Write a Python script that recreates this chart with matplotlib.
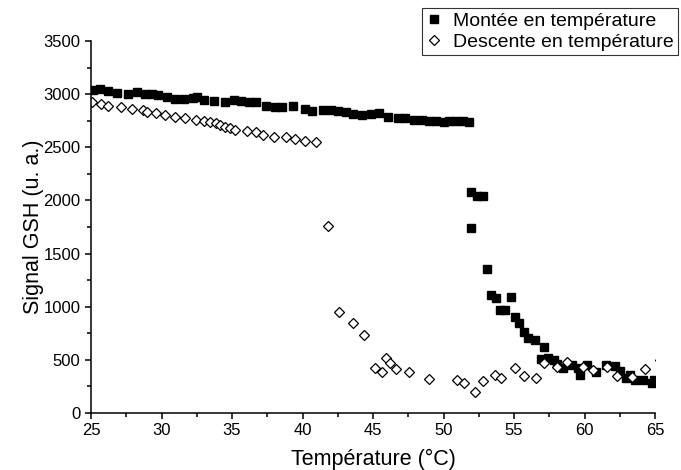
import matplotlib
matplotlib.use("Agg")
import matplotlib.pyplot as plt
from matplotlib.ticker import MultipleLocator

plt.rcParams['font.family'] = ['Liberation Sans', 'DejaVu Sans']

# heating run (filled squares)
temp_up = [25.13, 25.66, 26.19, 26.84, 27.64, 28.29, 28.82, 29.35, 29.74, 30.40,
           30.93, 31.59, 32.25, 32.51, 33.04, 33.70, 34.49, 35.14, 35.67, 36.20,
           36.73, 37.38, 38.04, 38.57, 39.36, 40.15, 40.68, 41.47, 42.00, 42.52,
           43.05, 43.58, 44.24, 44.89, 45.42, 46.08, 46.74, 47.27, 47.92, 48.5,
           49.0, 49.5, 50.0, 50.4, 50.9, 51.4, 51.8,
           51.96, 51.96, 52.41, 52.80, 53.11, 53.38, 53.72, 53.98, 54.38, 54.82,
           55.09, 55.38, 55.69, 56.01, 56.48, 56.88, 57.15, 57.41, 57.81, 58.07,
           58.47, 59.13, 59.53, 59.66, 60.18, 60.83, 61.49, 62.15, 62.55, 62.94,
           63.21, 63.60, 64.13, 64.79, 64.92]
signal_up = [3037, 3047, 3031, 3009, 3000, 3016, 3006, 3000, 2994, 2969,
             2953, 2953, 2962, 2969, 2947, 2931, 2928, 2944, 2931, 2928,
             2922, 2891, 2875, 2881, 2891, 2859, 2844, 2850, 2850, 2837,
             2834, 2812, 2806, 2812, 2819, 2787, 2775, 2772, 2756, 2760,
             2750, 2745, 2740, 2748, 2752, 2745, 2742,
             2080, 1739, 2046, 2040, 1358, 1107, 1082, 967, 967, 1092,
             904, 848, 763, 707, 691, 504, 622, 522, 497, 460,
             419, 450, 419, 357, 450, 388, 450, 441, 397, 325,
             357, 310, 310, 279, 310]

# cooling run (open diamonds)
temp_down = [25.08, 25.71, 26.24, 27.11, 27.90, 28.69, 28.95, 29.61, 30.27, 30.98,
             31.67, 32.46, 32.98, 33.43, 33.83, 34.14, 34.49, 34.83, 35.20, 36.07,
             36.67, 37.20, 37.99, 38.83, 39.49, 40.15, 40.94,
             41.78, 42.57, 43.58, 44.37, 45.16, 45.61, 45.95, 46.21, 46.61, 47.58,
             48.98, 50.95, 51.48, 52.22, 52.80, 53.65, 54.11, 55.10, 55.70, 56.56,
             57.15, 58.02, 58.73, 59.91, 60.57, 61.63, 62.29, 63.34, 64.26, 65.35]
signal_down = [2922, 2906, 2891, 2875, 2859, 2850, 2828, 2819, 2806, 2787,
               2775, 2756, 2744, 2734, 2725, 2712, 2694, 2681, 2662, 2656,
               2641, 2619, 2600, 2594, 2578, 2562, 2547,
               1764, 951, 848, 738, 428, 388, 522, 472, 413, 388,
               316, 310, 279, 200, 303, 355, 328, 419, 350, 328,
               472, 435, 476, 435, 404, 435, 347, 335, 410, 500]

fig = plt.figure(figsize=(6.81, 4.70), dpi=100)
ax = fig.add_axes([91/681, 57/470, 564/681, 372/470])

ax.plot(temp_up, signal_up, ls='none', marker='s', ms=5.6, color='black',
        mec='black', label='Montée en température')
ax.plot(temp_down, signal_down, ls='none', marker='D', ms=5.0, mfc='white',
        mec='black', mew=0.9, label='Descente en température')

ax.set_xlim(25, 65)
ax.set_ylim(0, 3500)
ax.xaxis.set_major_locator(MultipleLocator(5))
ax.xaxis.set_minor_locator(MultipleLocator(2.5))
ax.yaxis.set_major_locator(MultipleLocator(500))
ax.yaxis.set_minor_locator(MultipleLocator(250))

for s in ['top', 'right']:
    ax.spines[s].set_visible(False)
for s in ['left', 'bottom']:
    ax.spines[s].set_linewidth(1.1)

ax.tick_params(which='major', direction='out', length=4.5, width=1.1,
               labelsize=12, pad=3)
ax.tick_params(which='minor', direction='out', length=3, width=1.1)

ax.set_xlabel('Température (°C)', fontsize=15.5)
ax.set_ylabel('Signal GSH (u. a.)', fontsize=15.5)
ax.xaxis.set_label_coords(0.5, -0.096)
ax.yaxis.set_label_coords(-0.083, 0.5)

leg = fig.legend(loc='upper right', bbox_to_anchor=(678/681, 1 - 8/470),
                 fontsize=14, frameon=True, fancybox=False, shadow=False,
                 handlelength=0.8, handletextpad=0.6, borderpad=0.2,
                 labelspacing=0.2, borderaxespad=0)
leg.get_frame().set_edgecolor('black')
leg.get_frame().set_linewidth(0.8)

fig.savefig('out.png', dpi=100)
